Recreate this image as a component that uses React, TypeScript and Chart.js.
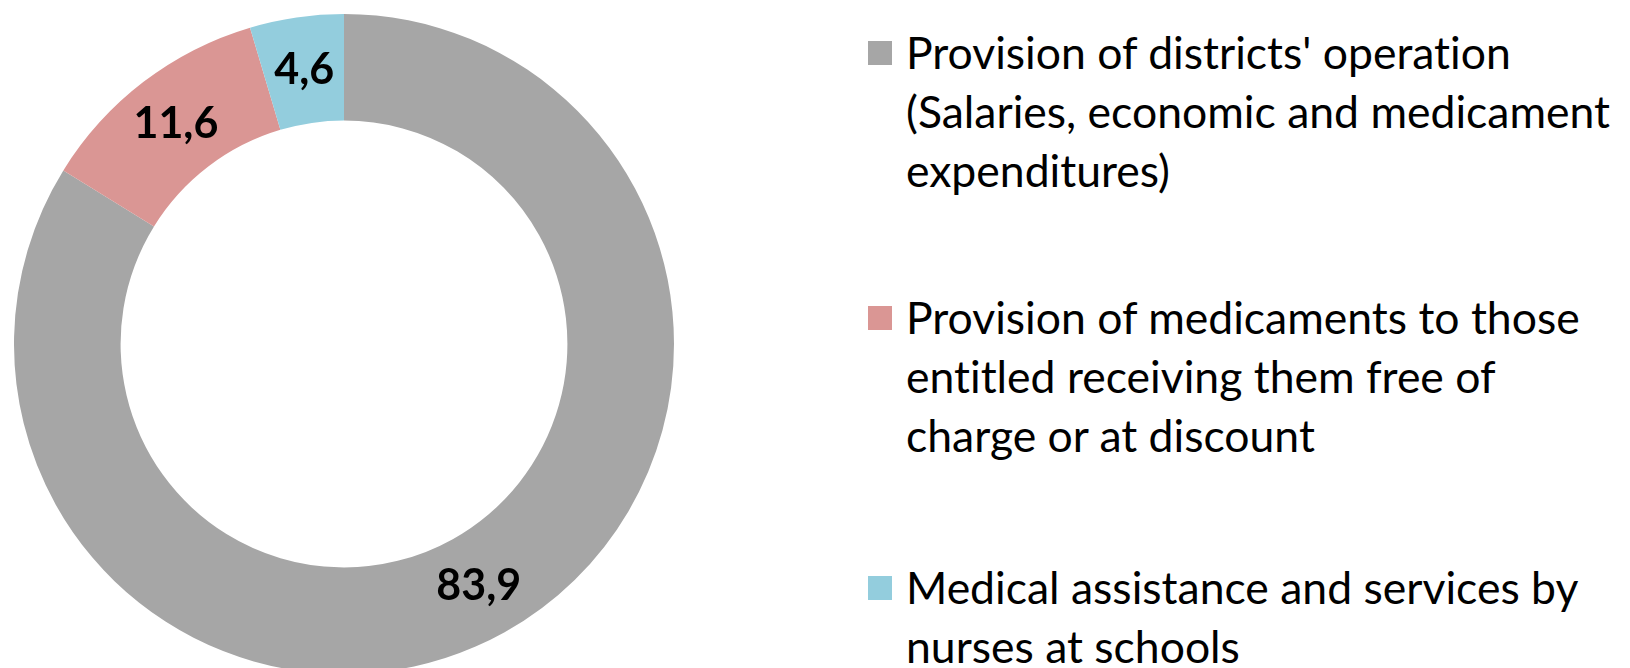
import React, { useEffect, useRef } from "react";
import { Chart, registerables } from "chart.js";

Chart.register(...registerables);

const categories: string[] = [
  "Provision of districts' operation\n(Salaries, economic and medicament\nexpenditures)",
  "Provision of medicaments to those\nentitled receiving them free of\ncharge or at discount",
  "Medical assistance and services by\nnurses at schools",
];
const values: number[] = [83.9, 11.6, 4.6];
const valueLabels: string[] = ["83,9", "11,6", "4,6"];
const colors: string[] = ["#A6A6A6", "#DA9694", "#93CDDD"];

const FONT = "Lato, 'Open Sans', sans-serif";
const legendTops = [22, 287, 557];

const labelPlugin = {
  id: "sliceLabels",
  afterDatasetsDraw(chart: any) {
    const ctx = chart.ctx;
    const meta = chart.getDatasetMeta(0);
    ctx.save();
    ctx.font = `bold 43px ${FONT}`;
    ctx.fillStyle = "#000";
    ctx.textAlign = "center";
    ctx.textBaseline = "middle";
    meta.data.forEach((arc: any, i: number) => {
      const p = arc.tooltipPosition();
      ctx.fillText(valueLabels[i], p.x, p.y);
    });
    ctx.restore();
  },
};

export default function App() {
  const ref = useRef<HTMLCanvasElement>(null);
  useEffect(() => {
    if (!ref.current) return;
    const chart = new Chart(ref.current, {
      type: "doughnut",
      data: {
        labels: categories,
        datasets: [
          {
            data: values,
            backgroundColor: colors,
            borderWidth: 0,
          },
        ],
      },
      options: {
        animation: false,
        responsive: false,
        maintainAspectRatio: false,
        cutout: "67.7%",
        layout: { padding: 0 },
        plugins: {
          legend: { display: false },
          tooltip: { enabled: false },
        },
      },
      plugins: [labelPlugin],
    });
    return () => chart.destroy();
  }, []);

  return (
    <div
      style={{
        position: "fixed",
        left: 0,
        top: 0,
        width: 1630,
        height: 668,
        overflow: "hidden",
        background: "#fff",
      }}
    >
      <canvas
        ref={ref}
        width={660}
        height={660}
        style={{ position: "absolute", left: 13.5, top: 14, width: 660, height: 660 }}
      />
      {categories.map((c, i) => (
        <div key={i}>
          <div
            style={{
              position: "absolute",
              left: 868,
              top: legendTops[i] + 19,
              width: 24,
              height: 24,
              background: colors[i],
            }}
          />
          <div
            style={{
              position: "absolute",
              left: 906,
              top: legendTops[i],
              fontFamily: FONT,
              fontSize: 44.5,
              lineHeight: "59px",
              whiteSpace: "pre",
              color: "#000",
              fontVariantLigatures: "none",
              fontFeatureSettings: '"liga" 0, "clig" 0',
            }}
          >
            {c}
          </div>
        </div>
      ))}
    </div>
  );
}
